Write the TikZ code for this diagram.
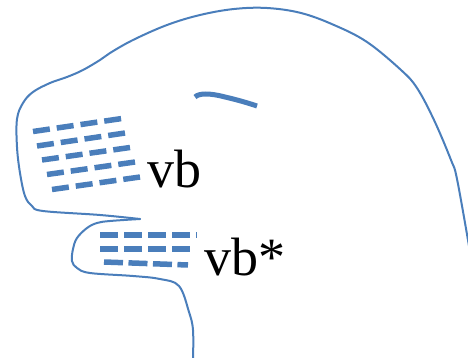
\documentclass[tikz,border=0pt]{standalone}
\usepackage{fontspec}
\setmainfont{Liberation Serif}
\definecolor{headblue}{HTML}{4A7EBB}
\tikzset{
  outline/.style={draw=headblue, line width=2pt, line join=round, line cap=round},
  eyestroke/.style={draw=headblue, line width=5pt},
  vbrow/.style={draw=headblue, line width=5.5pt, dash pattern=on 17pt off 7pt},
  vbsrow/.style={draw=headblue, line width=5.5pt, dash pattern=on 18pt off 6pt},
  lbl/.style={anchor=base west, inner sep=0pt, font=\fontsize{54}{60}\selectfont}
}
\begin{document}
\begin{tikzpicture}[x=1pt,y=-1pt]
\useasboundingbox (0,0) rectangle (468,358);
% head outline
\draw[outline] plot[smooth, tension=0.6] coordinates {
 (469,246) (457,179) (451,160) (434,120) (417,88) (401,70) (367,42) (334,25)
 (301,13) (267,8) (234,9) (200,15) (167,25) (133,40) (110,53) (100,60)
 (83,70) (67,77) (50,83) (33,92) (23,103) (17,119) (17,147) (20,173)
 (25,196) (32,206) (43,211) (100,215) (140,219)};
\draw[outline] plot[smooth, tension=0.6] coordinates {
 (140,219) (110,221) (97,223) (87,228) (77,238) (73,249) (72,261) (77,268)
 (90,273) (133,276) (160,279) (179,286) (189,312) (193,330) (193,359)};
% eye
\draw[eyestroke] (195,97) .. controls (199,93) and (210,93) .. (225,97)
  .. controls (238,100) and (248,103) .. (257,106);
% vb dashes
\draw[vbrow] (33,131.5) -- (122,118.5);
\draw[vbrow] (37,146) -- (125,133);
\draw[vbrow] (42,160) -- (130,147.5);
\draw[vbrow] (47,174.5) -- (135,162);
\draw[vbrow] (52,189.5) -- (140,177);
% vb* dashes
\draw[vbsrow] (100,235) -- (197,235);
\draw[vbsrow] (100,249) -- (190,249);
\draw[vbsrow, dash pattern=on 19pt off 5.5pt] (104,262) -- (188,265);
% labels
\node[lbl] (vb) at (147.5,187) {vb};
\node[lbl] (vbs) at (204.5,275) {vb*};
\end{tikzpicture}
\end{document}
